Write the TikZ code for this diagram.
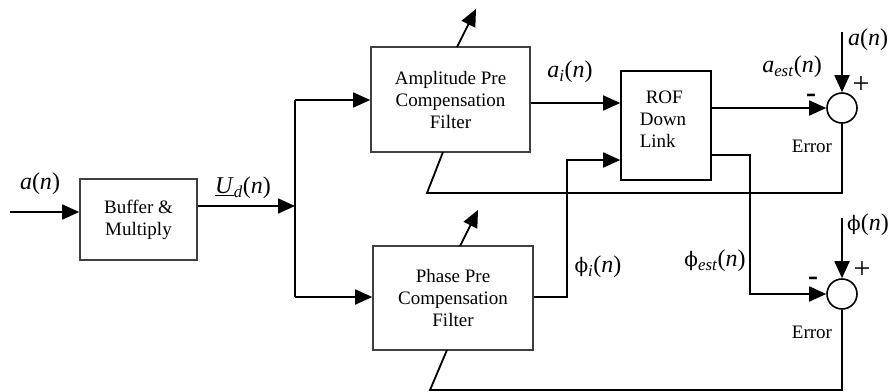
\documentclass[tikz,border=0pt]{standalone}
\usepackage{fontspec}
\setmainfont{Liberation Serif}
\newfontfamily\phifont{DejaVu Serif}
\usetikzlibrary{arrows.meta}
\tikzset{
  blk/.style={draw=black!75, line width=1.6pt, minimum width=#1, inner sep=0pt, align=center, font=\fontsize{19}{22}\selectfont},
  sumc/.style={draw, circle, line width=1.6pt, minimum size=30pt, inner sep=0pt},
  wire/.style={line width=1.8pt},
  arr/.style={line width=1.8pt, -{Triangle[length=17pt,width=15pt]}},
  lbl/.style={font=\fontsize{24}{26}\selectfont, inner sep=0pt},
  txt/.style={font=\fontsize{19}{22}\selectfont, inner sep=0pt},
  sgn/.style={font=\fontsize{30}{30}\selectfont, inner sep=0pt}
}
\newcommand{\myphi}{{\phifont\fontsize{20}{24}\selectfont ϕ}}
\begin{document}
\begin{tikzpicture}[x=1pt,y=-1pt]
\useasboundingbox (0,0) rectangle (891,391);
% blocks
\node[blk=117pt, minimum height=81pt] (buf) at (138.5,219.5) {Buffer \&\\Multiply};
\node[blk=159pt, minimum height=105pt] (amp) at (450.5,99.5) {Amplitude Pre\\Compensation\\Filter};
\node[blk=160pt, minimum height=104pt] (pha) at (453,298) {Phase Pre\\Compensation\\Filter};
\node[draw, line width=1.6pt, minimum width=90pt, minimum height=109pt, inner sep=0pt] (rof) at (666,125.5) {};
\node[txt, align=left] (roft) at (663,119) {\hspace*{6pt}ROF\\Down\\Link};
\node[sumc] (s1) at (842,108) {};
\node[sumc] (s2) at (842,294) {};
% coordinates
\coordinate (in) at (10,212);
\coordinate (sp) at (295,206);
\coordinate (top) at (295,100);
\coordinate (bot) at (295,297);
\coordinate (ph1) at (567,297);
\coordinate (ph2) at (567,160);
\coordinate (r2a) at (750,155);
\coordinate (r2b) at (750,294);
\coordinate (an) at (842,32);
\coordinate (pn) at (842,218);
\coordinate (f1a) at (842,193);
\coordinate (f1b) at (427,193);
\coordinate (f1c) at (443,152);
\coordinate (f2a) at (842,390);
\coordinate (f2b) at (430,390);
\coordinate (f2c) at (447,350);
\coordinate (ad1a) at (457,47);
\coordinate (ad1b) at (476,9);
\coordinate (ad2a) at (460,246);
\coordinate (ad2b) at (478,210);
% connectors
\draw[arr] (in) -- (in -| buf.west);
\draw[arr] (buf.east |- sp) -- (sp);
\draw[wire] (top) -- (bot);
\draw[arr] (top) -- (top -| amp.west);
\draw[arr] (bot) -- (bot -| pha.west);
\draw[arr] (amp.east |- 0,103) -- (rof.west |- 0,103);
\draw[arr] (pha.east |- ph1) -- (ph1) -- (ph2) -- (ph2 -| rof.west);
\draw[arr] (rof.east |- s1) -- (s1.west);
\draw[arr] (rof.east |- r2a) -- (r2a) -- (r2b) -- (s2.west);
\draw[arr] (an) -- (s1.north);
\draw[arr] (pn) -- (s2.north);
\draw[wire] (s1.south) -- (f1a) -- (f1b) -- (f1c);
\draw[wire] (s2.south) -- (f2a) -- (f2b) -- (f2c);
\draw[arr] (ad1a) -- (ad1b);
\draw[arr] (ad2a) -- (ad2b);
% labels
\node[lbl] (l1) at (40,184) {\textit{a}(\textit{n})};
\node[lbl] (l2) at (243,188) {\underline{\textit{U}}\textsubscript{\textit{d}}(\textit{n})};
\node[lbl] (l3) at (570,72) {\textit{a}\textsubscript{\textit{i}}(\textit{n})};
\node[lbl] (l4) at (792,67) {\textit{a}\textsubscript{\textit{est}}(\textit{n})};
\node[lbl] (l5) at (868,40) {\textit{a}(\textit{n})};
\node[sgn] (p1) at (861,85) {+};
\node[sgn] (m1) at (811,98) {\textbf{-}};
\node[txt] (e1) at (812,146) {Error};
\node[lbl] (l6) at (598,267) {\myphi\textsubscript{\textit{i}}(\textit{n})};
\node[lbl] (l7) at (715,261) {\myphi\textsubscript{\textit{est}}(\textit{n})};
\node[lbl] (l8) at (868,225) {\myphi(\textit{n})};
\node[sgn] (p2) at (862,270) {+};
\node[sgn] (m2) at (813,281) {\textbf{-}};
\node[txt] (e2) at (812,332) {Error};
\end{tikzpicture}
\end{document}
